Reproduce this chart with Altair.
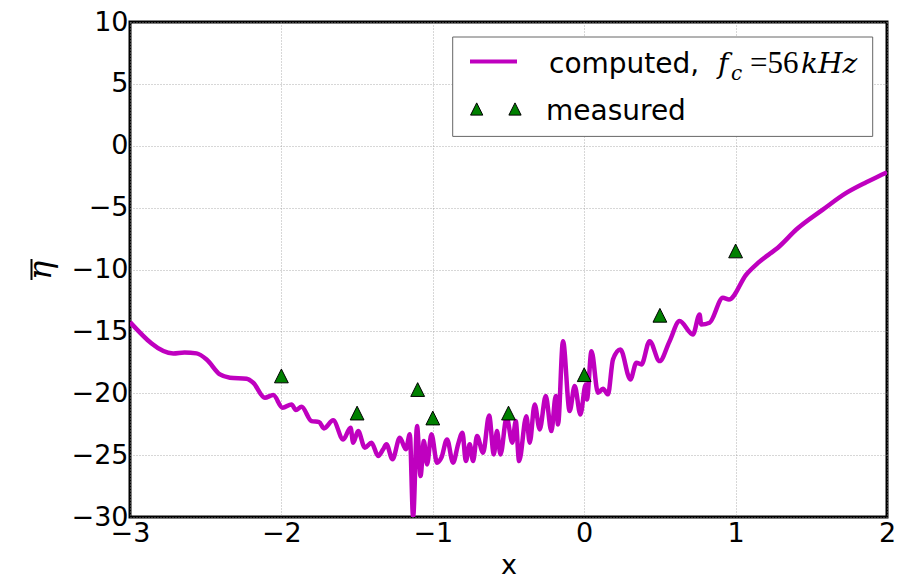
import altair as alt
import pandas as pd

# computed mean elevation along x
x_line = [-3.000, -2.714, -2.640, -2.560, -2.494, -2.406, -2.340, -2.230, -2.186, -2.109,
          -2.054, -1.992, -1.933, -1.904, -1.867, -1.801, -1.750, -1.719, -1.658, -1.592,
          -1.543, -1.526, -1.493, -1.449, -1.405, -1.361, -1.328, -1.306, -1.266, -1.218,
          -1.178, -1.152, -1.130, -1.104, -1.081, -1.059, -1.038, -1.009, -0.972, -0.943,
          -0.906, -0.866, -0.833, -0.804, -0.782, -0.756, -0.734, -0.708, -0.668, -0.628,
          -0.597, -0.576, -0.553, -0.512, -0.475, -0.452, -0.430, -0.382, -0.360, -0.327,
          -0.294, -0.254, -0.217, -0.188, -0.173, -0.140, -0.096, -0.063, -0.025, 0.010,
          0.018, 0.048, 0.091, 0.124, 0.157, 0.190, 0.239, 0.305, 0.345, 0.378,
          0.432, 0.498, 0.564, 0.630, 0.718, 0.762, 0.773, 0.828, 0.916, 0.956,
          1.071, 1.150, 1.290, 1.401, 1.576, 1.731, 1.863, 1.983, 2.000]
y_line = [-14.25, -16.78, -16.70, -16.78, -17.27, -18.48, -18.74, -18.83, -19.15, -20.36,
          -20.15, -21.17, -20.90, -21.36, -21.09, -22.25, -22.33, -22.84, -22.19, -23.73,
          -22.78, -23.99, -23.06, -24.40, -23.99, -25.07, -24.53, -24.13, -25.34, -23.59,
          -24.53, -23.32, -30.00, -22.65, -26.69, -23.86, -25.75, -23.32, -25.61, -25.20,
          -23.73, -25.61, -24.13, -23.19, -25.48, -24.13, -25.48, -23.46, -24.80, -21.79,
          -24.94, -23.06, -24.94, -21.95, -23.99, -22.25, -25.48, -21.85, -23.99, -20.90,
          -22.92, -20.23, -23.06, -20.23, -22.52, -15.79, -21.44, -19.42, -21.71, -19.29,
          -20.50, -16.60, -19.96, -19.63, -20.09, -17.27, -16.46, -18.88, -17.53, -17.67,
          -15.79, -17.40, -15.79, -14.17, -15.25, -13.63, -14.44, -14.30, -12.29, -12.42,
          -10.40, -9.45, -8.12, -6.77, -5.16, -3.81, -2.95, -2.25, -2.15]

# measured points
x_meas = [-2.0, -1.5, -1.1, -1.0, -0.5, 0.0, 0.5, 1.0]
y_meas = [-18.6, -21.6, -19.7, -22.0, -21.6, -18.5, -13.7, -8.5]

x_ticks = [-3, -2, -1, 0, 1, 2]
y_ticks = [-30, -25, -20, -15, -10, -5, 0, 5, 10]

MAGENTA = "#bf00bf"
GREEN = "#008000"
TRI = "M0,-1L-1,1L1,1Z"

line_df = pd.DataFrame({"x": x_line, "eta": y_line})
meas_df = pd.DataFrame({"x": x_meas, "eta": y_meas})
one = pd.DataFrame({"k": [0]})

xs = alt.Scale(domain=[-3, 2], nice=False, zero=False)
ys = alt.Scale(domain=[-30, 10], nice=False, zero=False)

x_axis = alt.Axis(values=x_ticks, format="d", title="x", labelPadding=3,
                  labelFlush=False, labelOverlap=False,
                  titleBaseline="alphabetic", titleY=56, titleFont="DejaVu Sans",
                  titleFontSize=27, titleFontWeight="normal")
y_axis = alt.Axis(values=y_ticks, format="d", title="η", labelPadding=2,
                  labelFlush=False, labelOverlap=False,
                  titleAngle=270, titleBaseline="alphabetic", titleAlign="center",
                  titleX=-80, titleY=248, titleFont="DejaVu Serif",
                  titleFontStyle="italic", titleFontSize=32, titleFontWeight="normal")

line = alt.Chart(line_df).mark_line(
    color=MAGENTA, strokeWidth=4.5, interpolate="monotone", clip=True,
    strokeJoin="round"
).encode(
    x=alt.X("x:Q", scale=xs, axis=x_axis),
    y=alt.Y("eta:Q", scale=ys, axis=y_axis),
)

points = alt.Chart(meas_df).mark_point(
    shape=TRI, filled=True, color=GREEN, stroke="black", strokeWidth=1,
    size=190, opacity=1
).encode(x="x:Q", y="eta:Q")

# overbar of the rotated y-axis symbol
eta_bar = alt.Chart(one).mark_rule(color="black", strokeWidth=2).encode(
    x=alt.value(-98.5), y=alt.value(237), y2=alt.value(258))

# legend drawn in plot pixel coordinates
box = alt.Chart(one).mark_rect(fill="white", stroke="#666666", strokeWidth=1).encode(
    x=alt.value(322.7), x2=alt.value(742.7), y=alt.value(15), y2=alt.value(114.4))
leg_line = alt.Chart(one).mark_rule(color=MAGENTA, strokeWidth=4).encode(
    x=alt.value(340), x2=alt.value(387), y=alt.value(39.4))


def leg_text(txt, x, y, font="DejaVu Sans", size=28, style="normal"):
    return alt.Chart(one).mark_text(
        text=txt, font=font, fontSize=size, fontStyle=style, align="left",
        baseline="alphabetic", color="black"
    ).encode(x=alt.value(x), y=alt.value(y))


def leg_tri(x, y):
    return alt.Chart(one).mark_point(
        shape=TRI, filled=True, color=GREEN, stroke="black", strokeWidth=1,
        size=150, opacity=1
    ).encode(x=alt.value(x), y=alt.value(y))


legend = [
    box, leg_line,
    leg_text("computed,", 419, 51),
    leg_text("f", 588, 51, font="DejaVu Serif", size=28, style="italic"),
    leg_text("c", 601, 58, font="DejaVu Serif", size=20, style="italic"),
    leg_text("=56", 620, 51, font="Liberation Serif", size=31),
    leg_text("kHz", 671, 51, font="DejaVu Serif", size=28, style="italic"),
    leg_tri(346.7, 87), leg_tri(385, 87),
    leg_text("measured", 416, 97.7),
]

chart = alt.layer(line, points, eta_bar, *legend).properties(
    width=757, height=495,
    padding={"left": 130, "top": 22, "right": 23, "bottom": 61},
    autosize="none",
).configure_view(
    stroke="black", strokeWidth=3
).configure_axis(
    domain=False, ticks=False, grid=True, gridColor="#999999", gridDash=[1, 2],
    gridWidth=0.8, labelFont="DejaVu Sans", labelFontSize=27, labelColor="black",
    titleColor="black"
)

chart.save("out.html", embed_options={"renderer": "svg", "actions": False})
